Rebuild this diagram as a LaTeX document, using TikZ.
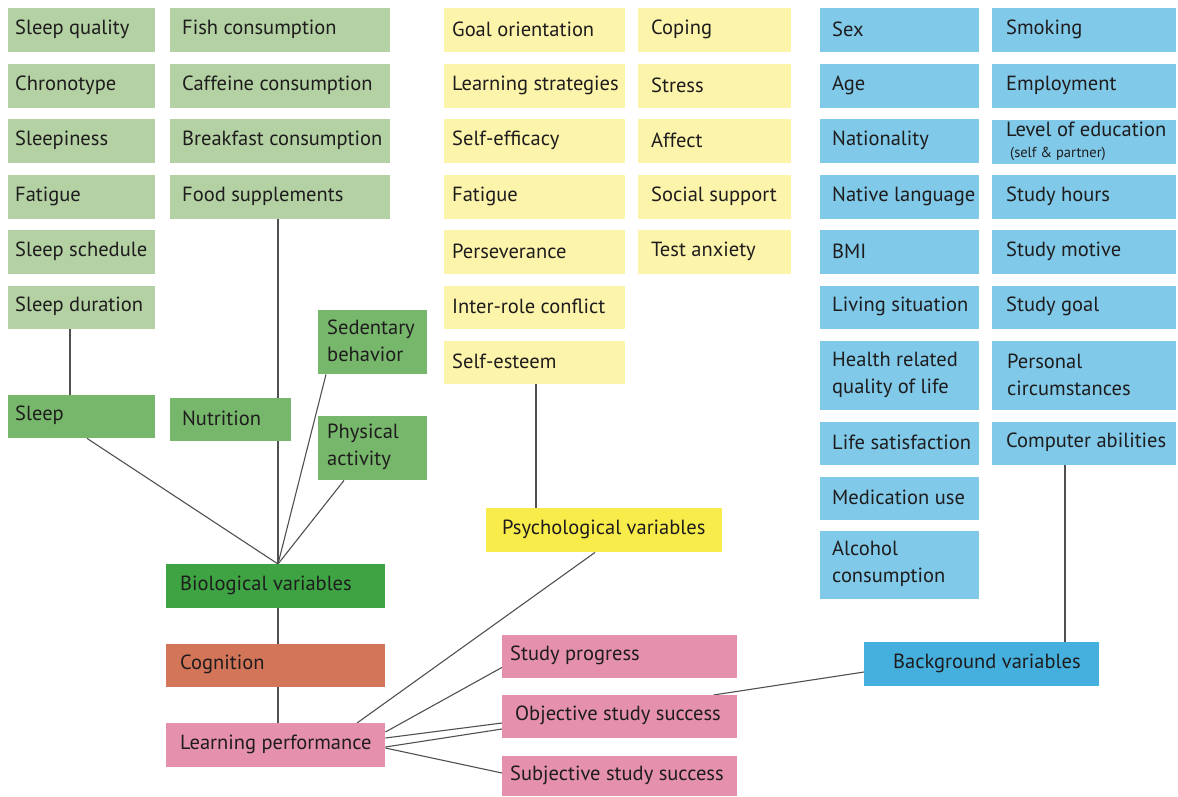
\documentclass[tikz,border=0pt]{standalone}
\usepackage{fontspec}
\setmainfont{PT Sans}
\pgfdeclarelayer{bg}
\pgfsetlayers{bg,main}
\definecolor{lgreen}{HTML}{B3D1A3}
\definecolor{mgreen}{HTML}{77B76B}
\definecolor{dgreen}{HTML}{3EA443}
\definecolor{cogc}{HTML}{D37559}
\definecolor{pinkc}{HTML}{E591AE}
\definecolor{lyellow}{HTML}{FCF4AA}
\definecolor{byellow}{HTML}{F8EC4B}
\definecolor{lblue}{HTML}{80C9E8}
\definecolor{dblue}{HTML}{45B0DE}
\definecolor{txt}{HTML}{1E1C1D}
\definecolor{linec}{HTML}{505050}
\tikzset{
  box/.style={inner sep=0pt, anchor=north west, draw=none},
  lbl/.style={inner sep=0pt, anchor=west, align=left, text=txt,
    font=\fontsize{20.5}{27}\selectfont},
  conn/.style={draw=linec, line width=1.1pt}
}
\newcommand\bx[8]{%
  \pgfmathsetmacro\bxw{#4-#2}\pgfmathsetmacro\bxh{#5-#3}%
  \node[box, fill=#7, minimum width=\bxw pt, minimum height=\bxh pt] (#1) at (#2,#3) {};
  \node[lbl] (#1-t) at ([xshift=#6pt,yshift=1pt]#1.west) {#8};}
\begin{document}
\begin{tikzpicture}[x=1pt,y=-1pt]
\useasboundingbox (0,0) rectangle (1178,796);
% green light col 1
\bx{sq}{8}{8}{155}{52}{7}{lgreen}{Sleep quality}
\bx{chr}{8}{64}{155}{108}{7}{lgreen}{Chronotype}
\bx{slp}{8}{119}{155}{163}{7}{lgreen}{Sleepiness}
\bx{fatg}{8}{175}{155}{219}{7}{lgreen}{Fatigue}
\bx{ss}{8}{230}{155}{274}{7}{lgreen}{Sleep schedule}
\bx{sd}{8}{286}{155}{329}{7}{lgreen}{Sleep duration}
% green light col 2
\bx{fish}{170}{8}{390}{52}{12}{lgreen}{Fish consumption}
\bx{caf}{170}{64}{390}{108}{12}{lgreen}{Caffeine consumption}
\bx{brk}{170}{119}{390}{163}{12}{lgreen}{Breakfast consumption}
\bx{food}{170}{175}{390}{219}{12}{lgreen}{Food supplements}
% mid green
\bx{sleep}{8}{395}{155}{438}{7}{mgreen}{Sleep}
\bx{nutr}{170}{398}{291}{441}{12}{mgreen}{Nutrition}
\bx{sed}{318}{310}{427}{374}{9}{mgreen}{Sedentary\\behavior}
\bx{phys}{318}{416}{427}{480}{9}{mgreen}{Physical\\activity}
% central chain
\bx{bio}{166}{564}{385}{608}{14}{dgreen}{Biological variables}
\bx{cog}{166}{644}{385}{687}{14}{cogc}{Cognition}
\bx{lp}{166}{723}{385}{767}{14}{pinkc}{Learning performance}
% yellow col 1
\bx{goal}{444}{8}{625}{52}{8}{lyellow}{Goal orientation}
\bx{lstr}{444}{64}{625}{108}{8}{lyellow}{Learning strategies}
\bx{seff}{444}{119}{625}{163}{8}{lyellow}{Self-efficacy}
\bx{fat2}{444}{175}{625}{219}{8}{lyellow}{Fatigue}
\bx{pers}{444}{230}{625}{274}{8}{lyellow}{Perseverance}
\bx{irc}{444}{286}{625}{329}{8}{lyellow}{Inter-role conflict}
\bx{sest}{444}{341}{625}{384}{8}{lyellow}{Self-esteem}
% yellow col 2
\bx{cop}{638}{8}{791}{52}{13}{lyellow}{Coping}
\bx{str}{638}{64}{791}{108}{13}{lyellow}{Stress}
\bx{aff}{638}{119}{791}{163}{13}{lyellow}{Affect}
\bx{soc}{638}{175}{791}{219}{13}{lyellow}{Social support}
\bx{tanx}{638}{230}{791}{274}{13}{lyellow}{Test anxiety}
\bx{psych}{486}{508}{722}{552}{16}{byellow}{Psychological variables}
% pink outcomes
\bx{sp}{502}{635}{737}{678}{8}{pinkc}{Study progress}
\bx{obj}{502}{695}{737}{738}{13}{pinkc}{Objective study success}
\bx{subj}{502}{756}{737}{796}{8}{pinkc}{Subjective study success}
% blue col 1
\bx{sex}{820}{8}{979}{52}{12}{lblue}{Sex}
\bx{age}{820}{64}{979}{108}{12}{lblue}{Age}
\bx{nat}{820}{119}{979}{163}{12}{lblue}{Nationality}
\bx{nlang}{820}{175}{979}{219}{12}{lblue}{Native language}
\bx{bmi}{820}{230}{979}{274}{12}{lblue}{BMI}
\bx{liv}{820}{286}{979}{329}{12}{lblue}{Living situation}
\bx{hrq}{820}{341}{979}{410}{12}{lblue}{Health related\\quality of life}
\bx{lsat}{820}{422}{979}{465}{12}{lblue}{Life satisfaction}
\bx{med}{820}{477}{979}{520}{12}{lblue}{Medication use}
\bx{alc}{820}{531}{979}{599}{12}{lblue}{Alcohol\\consumption}
% blue col 2
\bx{smk}{992}{8}{1176}{52}{14}{lblue}{Smoking}
\bx{emp}{992}{64}{1176}{108}{14}{lblue}{Employment}
\bx{edu}{992}{120}{1176}{164}{14}{lblue}{Level of education\\[-6pt]\hspace*{4pt}{\fontsize{14.5}{16}\selectfont (self \& partner)}}
\bx{sh}{992}{175}{1176}{219}{14}{lblue}{Study hours}
\bx{smot}{992}{230}{1176}{274}{14}{lblue}{Study motive}
\bx{sgoal}{992}{286}{1176}{329}{14}{lblue}{Study goal}
\bx{pc}{992}{341}{1176}{410}{15}{lblue}{Personal\\circumstances}
\bx{comp}{992}{422}{1176}{465}{14}{lblue}{Computer abilities}
\bx{bg}{864}{642}{1099}{686}{29}{dblue}{Background variables}
% connectors
\begin{pgfonlayer}{bg}
\draw[conn] ([xshift=62pt]sd.south west) -- ([xshift=62pt]sleep.north west);
\draw[conn] ([xshift=108pt]food.south west) -- ([xshift=112pt]bio.north west);
\draw[conn] ([xshift=79pt]sleep.south west) -- ([xshift=112pt]bio.north west);
\draw[conn] ([xshift=8pt]sed.south west) -- ([xshift=112pt]bio.north west);
\draw[conn] ([xshift=26pt]phys.south west) -- ([xshift=112pt]bio.north west);
\draw[conn] ([xshift=112pt]bio.south west) -- ([xshift=112pt]cog.north west);
\draw[conn] ([xshift=112pt]cog.south west) -- ([xshift=112pt]lp.north west);
\draw[conn] ([xshift=92pt]sest.south west) -- ([xshift=50pt]psych.north west);
\draw[conn] ([xshift=109pt]psych.south west) -- ([xshift=191pt]lp.north west);
\draw[conn] ([yshift=-9pt]lp.north east) -- ([yshift=11pt]sp.south west);
\draw[conn] ([yshift=-15pt]lp.north east) -- ([yshift=-28pt]obj.north west);
\draw[conn] ([yshift=-24pt]lp.north east) -- ([yshift=-34pt]obj.north west);
\draw[conn] ([yshift=-25pt]lp.north east) -- ([yshift=-17pt]subj.north west);
\draw[conn] ([yshift=-30pt]bg.north west) -- ([xshift=-24pt]obj.north east);
\draw[conn] ([xshift=73pt]comp.south west) -- ([xshift=201pt]bg.north west);
\end{pgfonlayer}
\end{tikzpicture}
\end{document}
